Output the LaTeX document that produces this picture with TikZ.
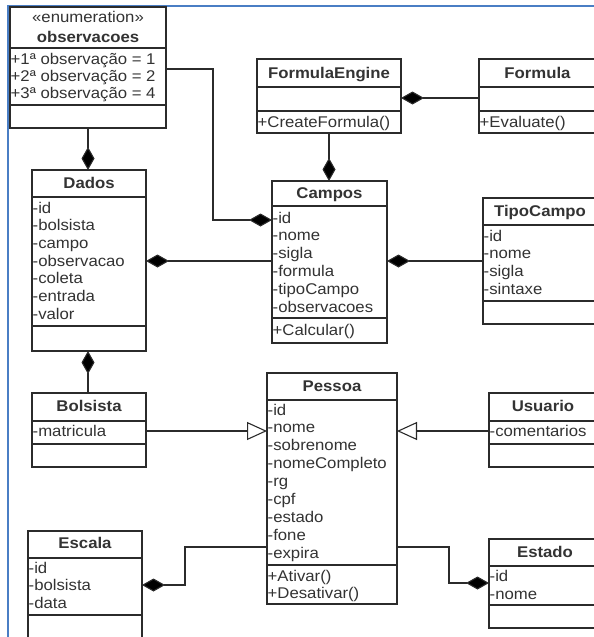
\documentclass[tikz,border=0pt]{standalone}
\usepackage{fontspec}
\setmainfont{Liberation Sans}[FakeStretch=1.08]
\usetikzlibrary{arrows.meta}
\definecolor{ln}{HTML}{2B2B2B}
\definecolor{tx}{HTML}{333333}
\definecolor{framec}{HTML}{4A7EC4}
\tikzset{
  clsbox/.style={draw=ln, line width=1.1pt, fill=white, rectangle, inner sep=0pt, outer sep=0pt},
  sepline/.style={draw=ln, line width=1.1pt},
  ttl/.style={font=\fontsize{15.5}{17}\selectfont\bfseries, text=tx, inner sep=0pt, anchor=base},
  stereo/.style={font=\fontsize{15.5}{17}\selectfont, text=tx, inner sep=0pt, anchor=base},
  attr/.style={font=\fontsize{15.5}{17}\selectfont, text=tx, inner sep=0pt, anchor=base west},
  conn/.style={draw=ln, line width=1.1pt},
  compo/.style={conn, -{Diamond[length=23pt,width=13pt,fill=black]}},
  gener/.style={conn, -{Triangle[open,length=20pt,width=18pt,fill=white]}},
}
% name, x1, y1, x2, y2, header line, separator line
\newcommand\umlbox[7]{%
  \node[clsbox, minimum width={(#4-#2)*1pt}, minimum height={(#5-#3)*1pt}] (#1) at ({(#2+#4)/2},{(#3+#5)/2}) {};
  \draw[sepline] (#2,#6) -- (#4,#6);
  \draw[sepline] (#2,#7) -- (#4,#7);}
\begin{document}
\begin{tikzpicture}[x=1pt,y=-1pt]
\useasboundingbox (0,0) rectangle (594,637);
\fill[white] (0,0) rectangle (594,637);
\clip (0,0) rectangle (594,637);
\draw[framec, line width=2pt] (8,640) -- (8,6) -- (596,6);

% observacoes
\umlbox{obs}{10}{7}{166}{128}{48}{105}
\node[stereo] (obs-s) at (88,23) {«enumeration»};
\node[ttl] (obs-t) at (88,42.5) {observacoes};
\foreach \t [count=\i from 0] in {+1ª observação = 1,+2ª observação = 2,+3ª observação = 4}
  \node[attr] (obs-a\i) at (10.5,{64+17*\i}) {\t};

% FormulaEngine
\umlbox{fe}{257}{59}{401}{133}{87}{111}
\node[ttl] (fe-t) at (329,78.5) {FormulaEngine};
\node[attr] (fe-m0) at (257.5,127) {+CreateFormula()};

% Formula
\umlbox{formula}{479}{59}{596}{133}{87}{111}
\node[ttl] (formula-t) at (537.5,78.5) {Formula};
\node[attr] (formula-m0) at (479.5,127) {+Evaluate()};

% Dados
\umlbox{dados}{32}{170}{146}{351}{197}{326}
\node[ttl] (dados-t) at (89,188.5) {Dados};
\foreach \t [count=\i from 0] in {-id,-bolsista,-campo,-observacao,-coleta,-entrada,-valor}
  \node[attr] (dados-a\i) at (32.5,{213+17.7*\i}) {\t};

% Campos
\umlbox{campos}{272}{181}{387}{343}{206}{318}
\node[ttl] (campos-t) at (329.5,198.5) {Campos};
\foreach \t [count=\i from 0] in {-id,-nome,-sigla,-formula,-tipoCampo,-observacoes}
  \node[attr] (campos-a\i) at (272.5,{223+17.8*\i}) {\t};
\node[attr] (campos-m0) at (272.5,335) {+Calcular()};

% TipoCampo
\umlbox{tipo}{483}{198}{597}{324}{225}{301}
\node[ttl] (tipo-t) at (540,216.5) {TipoCampo};
\foreach \t [count=\i from 0] in {-id,-nome,-sigla,-sintaxe}
  \node[attr] (tipo-a\i) at (483.5,{241+17.7*\i}) {\t};

% Bolsista
\umlbox{bolsista}{32}{393}{146}{467}{421}{444}
\node[ttl] (bolsista-t) at (89,411.5) {Bolsista};
\node[attr] (bolsista-a0) at (32.5,436) {-matricula};

% Pessoa
\umlbox{pessoa}{267}{373}{397}{604}{400}{565}
\node[ttl] (pessoa-t) at (332,391.5) {Pessoa};
\foreach \t [count=\i from 0] in {-id,-nome,-sobrenome,-nomeCompleto,-rg,-cpf,-estado,-fone,-expira}
  \node[attr] (pessoa-a\i) at (267.5,{415+17.9*\i}) {\t};
\node[attr] (pessoa-m0) at (267.5,581) {+Ativar()};
\node[attr] (pessoa-m1) at (267.5,598) {+Desativar()};

% Usuario
\umlbox{usuario}{489}{393}{597}{467}{421}{444}
\node[ttl] (usuario-t) at (543,411.5) {Usuario};
\node[attr] (usuario-a0) at (489.5,436) {-comentarios};

% Escala
\umlbox{escala}{28}{531}{142}{660}{558}{615}
\node[ttl] (escala-t) at (85,548.5) {Escala};
\foreach \t [count=\i from 0] in {-id,-bolsista,-data}
  \node[attr] (escala-a\i) at (28.5,{573+17.5*\i}) {\t};

% Estado
\umlbox{estado}{489}{539}{601}{628}{566}{605}
\node[ttl] (estado-t) at (545,557.5) {Estado};
\foreach \t [count=\i from 0] in {-id,-nome}
  \node[attr] (estado-a\i) at (489.5,{581+18*\i}) {\t};

% connector bend points
\coordinate (k0) at (213,69);
\coordinate (k1) at (213,220);
\coordinate (k2) at (0,261);
\coordinate (k3) at (0,98);
\coordinate (k4) at (0,431);
\coordinate (k5) at (185,547);
\coordinate (k6) at (185,585);
\coordinate (k7) at (449,547);
\coordinate (k8) at (449,583);

% connectors
\draw[compo] (obs.east |- k0) -- (k0) -- (k1) -- (campos.west |- k1);
\draw[compo] (obs.south) -- (obs.south |- dados.north);
\draw[compo] (campos.west |- k2) -- (dados.east |- k2);
\draw[compo] (fe.south) -- (fe.south |- campos.north);
\draw[compo] (formula.west |- k3) -- (fe.east |- k3);
\draw[compo] (tipo.west |- k2) -- (campos.east |- k2);
\draw[compo] (bolsista.north -| obs.south) -- (dados.south -| obs.south);
\draw[gener] (bolsista.east |- k4) -- (pessoa.west |- k4);
\draw[gener] (usuario.west |- k4) -- (pessoa.east |- k4);
\draw[compo] (pessoa.west |- k5) -- (k5) -- (k6) -- (escala.east |- k6);
\draw[compo] (pessoa.east |- k7) -- (k7) -- (k8) -- (estado.west |- k8);
\end{tikzpicture}
\end{document}
